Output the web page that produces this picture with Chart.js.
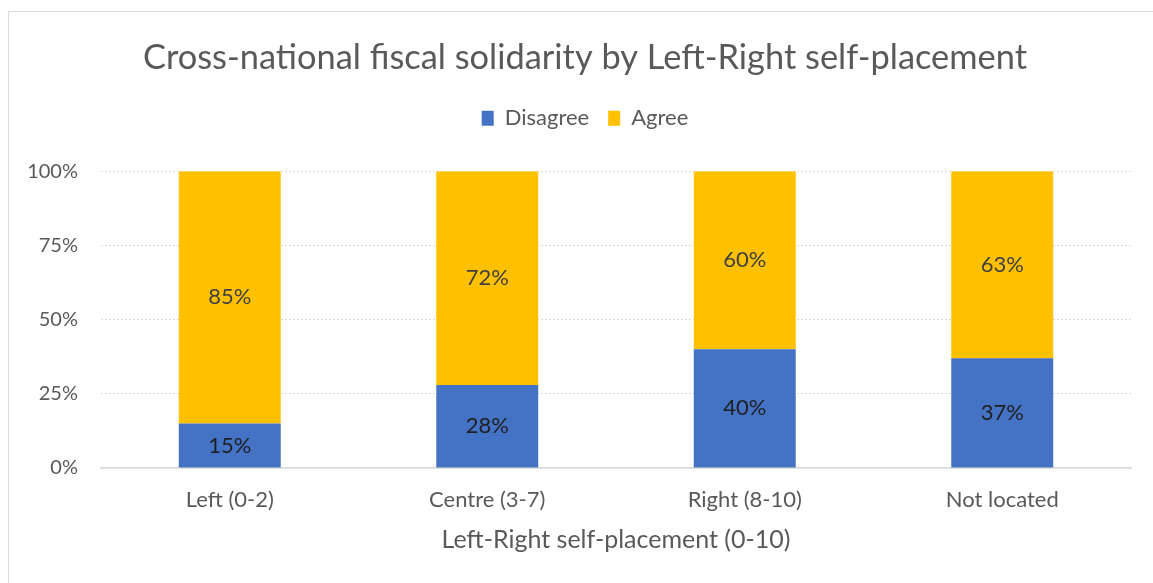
<!DOCTYPE html>
<html>
<head>
<meta charset="utf-8">
<script src="https://cdn.jsdelivr.net/npm/chart.js@4/dist/chart.umd.min.js"></script>
<style>
  body { margin: 0; background: #fff; overflow: hidden; }
  #frame { position: absolute; left: 8px; top: 11px; width: 1200px; height: 600px; border: 1px solid #d9d9d9; }
  #wrap { position: absolute; left: 0; top: 0; width: 1153px; height: 583px; overflow: hidden; }
</style>
</head>
<body>
<div id="frame"></div>
<div id="wrap"><canvas id="chart" width="1170" height="583"></canvas></div>
<script>
const categories = ['Left (0-2)', 'Centre (3-7)', 'Right (8-10)', 'Not located'];
const disagree = [15, 28, 40, 37];
const agree = [85, 72, 60, 63];
const yTicks = [0, 25, 50, 75, 100];

const FONT = 'Lato, "Open Sans", sans-serif';
const GREY = '#595959';

// percentage written in the middle of each stacked segment
const segmentLabels = {
  id: 'segmentLabels',
  afterDatasetsDraw(chart) {
    const ctx = chart.ctx;
    ctx.save();
    ctx.font = '22px ' + FONT;
    ctx.textAlign = 'center';
    ctx.textBaseline = 'middle';
    chart.data.datasets.forEach((ds, i) => {
      chart.getDatasetMeta(i).data.forEach((bar, j) => {
        ctx.fillStyle = ds.labelColor;
        ctx.fillText(ds.data[j] + '%', bar.x, (bar.y + bar.base) / 2);
      });
    });
    ctx.restore();
  }
};

// extra room between legend and plot
const legendGap = {
  id: 'legendGap',
  afterInit(chart) {
    const fit = chart.legend.fit;
    chart.legend.fit = function () {
      fit.call(this);
      this.height += 32;
    };
  }
};

new Chart(document.getElementById('chart'), {
  type: 'bar',
  data: {
    labels: categories,
    datasets: [
      { label: 'Disagree', data: disagree, backgroundColor: '#4472C4', labelColor: '#1f1f1f' },
      { label: 'Agree', data: agree, backgroundColor: '#FFC000', labelColor: '#404040' }
    ]
  },
  options: {
    responsive: false,
    animation: false,
    datasets: { bar: { categoryPercentage: 1, barPercentage: 0.396 } },
    layout: { padding: 0 },
    plugins: {
      tooltip: { enabled: false },
      title: {
        display: true,
        text: 'Cross-national fiscal solidarity by Left-Right self-placement',
        color: GREY,
        font: { family: FONT, size: 34.4, weight: 'normal' },
        padding: { top: 37, bottom: 10 }
      },
      legend: {
        display: true,
        labels: {
          color: GREY,
          font: { family: FONT, size: 22 },
          boxWidth: 12,
          boxHeight: 15,
          padding: 19
        }
      }
    },
    scales: {
      x: {
        stacked: true,
        grid: { display: false },
        border: { display: true, color: '#d9d9d9', width: 1.5 },
        ticks: { color: GREY, font: { family: FONT, size: 22 }, padding: 11 },
        title: {
          display: true,
          text: 'Left-Right self-placement (0-10)',
          color: GREY,
          font: { family: FONT, size: 25 },
          padding: { top: 0, bottom: 28 }
        },
        afterFit(scale) { scale.height = 115; }
      },
      y: {
        stacked: true,
        min: 0,
        max: 100,
        afterBuildTicks(scale) { scale.ticks = yTicks.map(v => ({ value: v })); },
        grid: { color: '#d9d9d9', lineWidth: 1, drawTicks: false },
        border: { display: false, dash: [2, 2] },
        ticks: { color: GREY, font: { family: FONT, size: 20 }, padding: 23, callback: v => v + '%' },
        afterFit(scale) { scale.width = 101; }
      },
      // empty right-hand margin of the plot
      yRight: {
        position: 'right',
        display: true,
        grid: { display: false },
        border: { display: false },
        ticks: { display: false },
        afterFit(scale) { scale.width = 39; }
      }
    }
  },
  plugins: [segmentLabels, legendGap]
});
</script>
</body>
</html>
